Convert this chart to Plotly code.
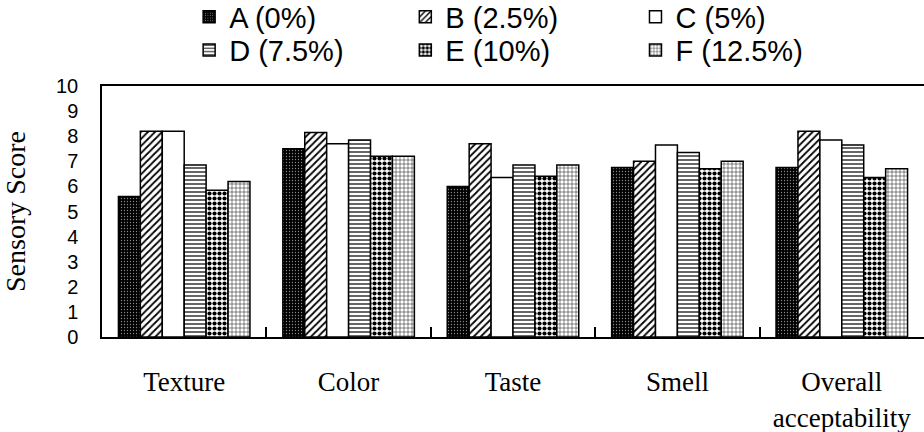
import plotly.graph_objects as go

categories = ["Texture", "Color", "Taste", "Smell", "Overall<br>acceptability"]
series_names = ["A (0%)", "B (2.5%)", "C (5%)", "D (7.5%)", "E (10%)", "F (12.5%)"]
A = [5.6, 7.5, 6.0, 6.75, 6.75]
B = [8.2, 8.15, 7.7, 7.0, 8.2]
C = [8.2, 7.7, 6.35, 7.65, 7.85]
D = [6.85, 7.85, 6.85, 7.35, 7.65]
E = [5.85, 7.2, 6.4, 6.7, 6.35]
F = [6.2, 7.2, 6.85, 7.0, 6.7]
values = [A, B, C, D, E, F]
y_ticks = list(range(0, 11))

patterns = [
    dict(shape=".", fgcolor="#8a8a8a", bgcolor="black", size=3, solidity=0.15, fillmode="replace"),
    dict(shape="/", fgcolor="black", bgcolor="white", size=5, solidity=0.35, fillmode="replace"),
    dict(shape="", fgcolor="black", bgcolor="white"),
    dict(shape="-", fgcolor="black", bgcolor="white", size=4, solidity=0.3, fillmode="replace"),
    dict(shape=".", fgcolor="black", bgcolor="white", size=5, solidity=0.55, fillmode="replace"),
    dict(shape="+", fgcolor="black", bgcolor="white", size=4, solidity=0.22, fillmode="replace"),
]
legend_ids = ["legend", "legend2", "legend3", "legend4", "legend5", "legend6"]
leg_x = [0.106, 0.369, 0.649, 0.106, 0.369, 0.649]
leg_y = [1.275, 1.275, 1.275, 1.143, 1.143, 1.143]

fig = go.Figure()
for name, vals, pat, lg in zip(series_names, values, patterns, legend_ids):
    fig.add_trace(go.Bar(
        x=categories, y=vals, name=name,
        marker=dict(color="white", pattern=pat, line=dict(color="black", width=1.5)),
        legend=lg,
    ))

leg_font = dict(family="Liberation Sans, Arial, sans-serif", size=29, color="black")
legends = {}
for lg, lx, ly in zip(legend_ids, leg_x, leg_y):
    legends[lg] = dict(orientation="v", yanchor="middle", y=ly, xanchor="left", x=lx,
                       font=leg_font, bgcolor="rgba(0,0,0,0)", itemwidth=30)

fig.update_layout(
    width=924, height=432,
    margin=dict(l=102, r=0, t=86, b=95, autoexpand=False),
    paper_bgcolor="white", plot_bgcolor="white",
    barmode="group", bargap=0.2, bargroupgap=0,
    xaxis=dict(
        showline=True, linecolor="black", linewidth=2, mirror=True,
        ticks="inside", tickson="boundaries", ticklen=10, tickwidth=1.5, tickcolor="black",
        tickfont=dict(family="Liberation Serif, Times New Roman, serif", size=27, color="black"),
        ticklabelstandoff=20,
        showgrid=False, range=[-0.5, 4.5],
    ),
    yaxis=dict(
        range=[0, 10], tickvals=y_ticks, ticktext=[str(t) for t in y_ticks],
        showline=True, linecolor="black", linewidth=1.5,
        ticks="", showgrid=False, zeroline=False,
        tickfont=dict(family="Liberation Sans, Arial, sans-serif", size=20, color="black"),
        ticklabelstandoff=18,
        title=dict(text="Sensory Score", standoff=24,
                   font=dict(family="Liberation Serif, Times New Roman, serif", size=28, color="black")),
    ),
    showlegend=True,
    **legends,
)

fig.write_html("out.html", config={"displayModeBar": False},
               post_script="document.body.style.margin='0';document.body.style.overflow='hidden';")
